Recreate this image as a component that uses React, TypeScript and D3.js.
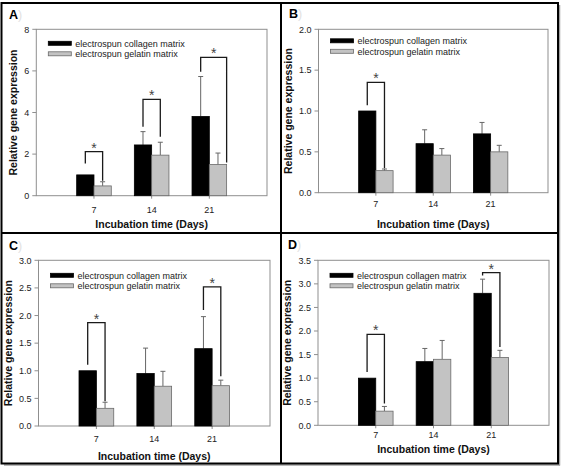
import React from "react";
import * as d3 from "d3";

const categories = ["7", "14", "21"];
const seriesNames = ["electrospun collagen matrix", "electrospun gelatin matrix"];
const panelLabels = ["A", "B", "C", "D"];

const ticksA = [0, 2, 4, 6, 8];
const ticksB = [0, 0.5, 1, 1.5, 2];
const ticksC = [0, 0.5, 1, 1.5, 2, 2.5, 3];
const ticksD = [0, 0.5, 1, 1.5, 2, 2.5, 3, 3.5];

const collagenA = [1.0, 2.44, 3.81];
const collagenErrA = [0, 0.64, 1.92];
const gelatinA = [0.47, 1.95, 1.5];
const gelatinErrA = [0.2, 0.62, 0.55];

const collagenB = [1.0, 0.6, 0.72];
const collagenErrB = [0, 0.17, 0.14];
const gelatinB = [0.27, 0.46, 0.5];
const gelatinErrB = [0.02, 0.08, 0.08];

const collagenC = [1.0, 0.95, 1.4];
const collagenErrC = [0, 0.46, 0.58];
const gelatinC = [0.32, 0.72, 0.73];
const gelatinErrC = [0.11, 0.27, 0.1];

const collagenD = [1.0, 1.35, 2.8];
const collagenErrD = [0, 0.28, 0.3];
const gelatinD = [0.3, 1.4, 1.44];
const gelatinErrD = [0.1, 0.4, 0.15];

// significance brackets: category index, top value, left leg end, right leg end
const bracketsA = [
  { cat: 0, top: 2.12, left: 1.55, right: 0.72, rightAt: 0.75 },
  { cat: 1, top: 4.63, left: 3.32, right: 2.84, rightAt: 0.75 },
  { cat: 2, top: 6.65, left: 5.96, right: 1.6, rightAt: 1.0 },
];
const bracketsB = [{ cat: 0, top: 1.35, left: 1.07, right: 0.3, rightAt: 0.75 }];
const bracketsC = [
  { cat: 0, top: 1.87, left: 1.11, right: 0.45, rightAt: 0.75 },
  { cat: 2, top: 2.52, left: 2.1, right: 0.9, rightAt: 0.75 },
];
const bracketsD = [
  { cat: 0, top: 1.93, left: 1.13, right: 0.46, rightAt: 0.75 },
  { cat: 2, top: 3.24, left: 3.18, right: 1.66, rightAt: 0.75 },
];

const panels = [
  { ticks: ticksA, fmt: "d", col: collagenA, colErr: collagenErrA, gel: gelatinA, gelErr: gelatinErrA, brackets: bracketsA },
  { ticks: ticksB, fmt: ".1f", col: collagenB, colErr: collagenErrB, gel: gelatinB, gelErr: gelatinErrB, brackets: bracketsB },
  { ticks: ticksC, fmt: ".1f", col: collagenC, colErr: collagenErrC, gel: gelatinC, gelErr: gelatinErrC, brackets: bracketsC },
  { ticks: ticksD, fmt: ".1f", col: collagenD, colErr: collagenErrD, gel: gelatinD, gelErr: gelatinErrD, brackets: bracketsD },
];

const layouts = [
  { l: 36.3, r: 267, t: 29.3, b: 195.7, tickBase: 213, titleBase: 227.5, labelX: 9, labelY: 19, legDy: 14 },
  { l: 318.5, r: 548, t: 29.3, b: 192.7, tickBase: 206.5, titleBase: 228, labelX: 289, labelY: 18, legDy: 11.5 },
  { l: 38.5, r: 270, t: 260.3, b: 426, tickBase: 442, titleBase: 459.5, labelX: 9, labelY: 250, legDy: 15 },
  { l: 318, r: 549, t: 260.3, b: 425.3, tickBase: 438, titleBase: 452.5, labelX: 288, labelY: 249, legDy: 15 },
];

const FONT = "'Liberation Sans', Arial, Helvetica, sans-serif";
const AXIS = "#8f8f8f";

function Panel({ p, lay, label }: any) {
  const maxV = p.ticks[p.ticks.length - 1];
  const x = d3.scaleLinear().domain([0, categories.length + 1]).range([lay.l, lay.r]);
  const y = d3.scaleLinear().domain([0, maxV]).range([lay.b, lay.t]);
  const band = x(1) - x(0);
  const bw = band * 0.3;
  const fmt = d3.format(p.fmt);
  const labelW = p.fmt === "d" ? 5 : 12.5;
  const titleX = lay.l - 7 - labelW - 11;
  const series = [
    { vals: p.col, errs: p.colErr, fill: "#000", stroke: "#000" },
    { vals: p.gel, errs: p.gelErr, fill: "#c3c3c3", stroke: "#6a6a6a" },
  ];
  return (
    <g>
      <text x={lay.labelX} y={lay.labelY} fontFamily={FONT} fontWeight="bold" fontSize={12.5} fill="#000">
        {label}
        <tspan fill="#e2e2e2" fontWeight="normal">)</tspan>
      </text>
      {/* frame */}
      <rect x={lay.l} y={lay.t} width={lay.r - lay.l} height={lay.b - lay.t} fill="none" stroke={AXIS} strokeWidth={1} />
      {/* y ticks */}
      {p.ticks.map((t: number) => (
        <g key={t}>
          <line x1={lay.l - 4} x2={lay.l} y1={y(t)} y2={y(t)} stroke={AXIS} strokeWidth={1} />
          <text x={lay.l - 7} y={y(t) + 3.2} textAnchor="end" fontFamily={FONT} fontSize={9} fill="#222">
            {fmt(t)}
          </text>
        </g>
      ))}
      {/* x ticks */}
      {categories.map((c, i) => (
        <g key={c}>
          <line x1={x(i + 1)} x2={x(i + 1)} y1={lay.b} y2={lay.b + 3} stroke={AXIS} strokeWidth={1} />
          <text x={x(i + 1)} y={lay.tickBase} textAnchor="middle" fontFamily={FONT} fontSize={9} fill="#222">
            {c}
          </text>
        </g>
      ))}
      {/* bars */}
      {series.map((s, si) =>
        s.vals.map((v: number, i: number) => {
          const x0 = x(i + 1) - bw + si * bw;
          const cx = x0 + bw / 2;
          const e = s.errs[i];
          return (
            <g key={si + "-" + i}>
              {e > 0 && (
                <g>
                  <line x1={cx} x2={cx} y1={y(v)} y2={y(v + e)} stroke="#666" strokeWidth={1} />
                  <line x1={cx - 2.5} x2={cx + 2.5} y1={y(v + e)} y2={y(v + e)} stroke="#666" strokeWidth={1} />
                </g>
              )}
              <rect x={x0} y={y(v)} width={bw} height={y(0) - y(v)} fill={s.fill} stroke={s.stroke} strokeWidth={0.8} />
            </g>
          );
        })
      )}
      {/* brackets */}
      {p.brackets.map((br: any, k: number) => {
        const gx = x(br.cat + 1) - bw;
        const lx = gx + 0.25 * 2 * bw;
        const rx = gx + br.rightAt * 2 * bw;
        return (
          <g key={k}>
            <path
              d={`M${lx},${y(br.left)}V${y(br.top)}H${rx}V${y(br.right)}`}
              fill="none"
              stroke="#1a1a1a"
              strokeWidth={1.3}
            />
            <text x={(lx + rx) / 2} y={y(br.top) + 1} textAnchor="middle" fontFamily={FONT} fontSize={14} fill="#444">
              *
            </text>
          </g>
        );
      })}
      {/* legend */}
      {seriesNames.map((n, i) => {
        const cy = lay.t + lay.legDy + i * 10.5;
        return (
          <g key={n}>
            <rect x={lay.l + 12} y={cy - 2} width={23} height={4} fill={series[i].fill} stroke={series[i].stroke} strokeWidth={0.8} />
            <text x={lay.l + 39} y={cy + 3.2} fontFamily={FONT} fontSize={9} fill="#222">
              {n}
            </text>
          </g>
        );
      })}
      {/* axis titles */}
      <text
        transform={`translate(${titleX + 3.8},${(lay.t + lay.b) / 2}) rotate(-90)`}
        textAnchor="middle"
        fontFamily={FONT}
        fontWeight="bold"
        fontSize={10.5}
        fill="#111"
      >
        Relative gene expression
      </text>
      <text x={(lay.l + lay.r) / 2} y={lay.titleBase} textAnchor="middle" fontFamily={FONT} fontWeight="bold" fontSize={10.5} fill="#111">
        Incubation time (Days)
      </text>
    </g>
  );
}

export default function App() {
  return (
    <svg
      width={563}
      height={467}
      style={{ position: "absolute", left: 0, top: 0, background: "#fff" }}
    >
      <rect x={0} y={0} width={563} height={467} fill="#fff" />
      {panels.map((p, i) => (
        <Panel key={i} p={p} lay={layouts[i]} label={panelLabels[i]} />
      ))}
      {/* outer border with shadow */}
      <line x1={559.5} x2={559.5} y1={5} y2={465.5} stroke="#a0a0a0" strokeWidth={1.5} />
      <line x1={4} x2={560} y1={465} y2={465} stroke="#a0a0a0" strokeWidth={1.5} />
      <rect x={1.5} y={3} width={556.5} height={460.5} fill="none" stroke="#000" strokeWidth={2} />
      <line x1={281} x2={281} y1={3} y2={463.5} stroke="#000" strokeWidth={2} />
      <line x1={1.5} x2={558} y1={233} y2={233} stroke="#000" strokeWidth={2} />
    </svg>
  );
}
